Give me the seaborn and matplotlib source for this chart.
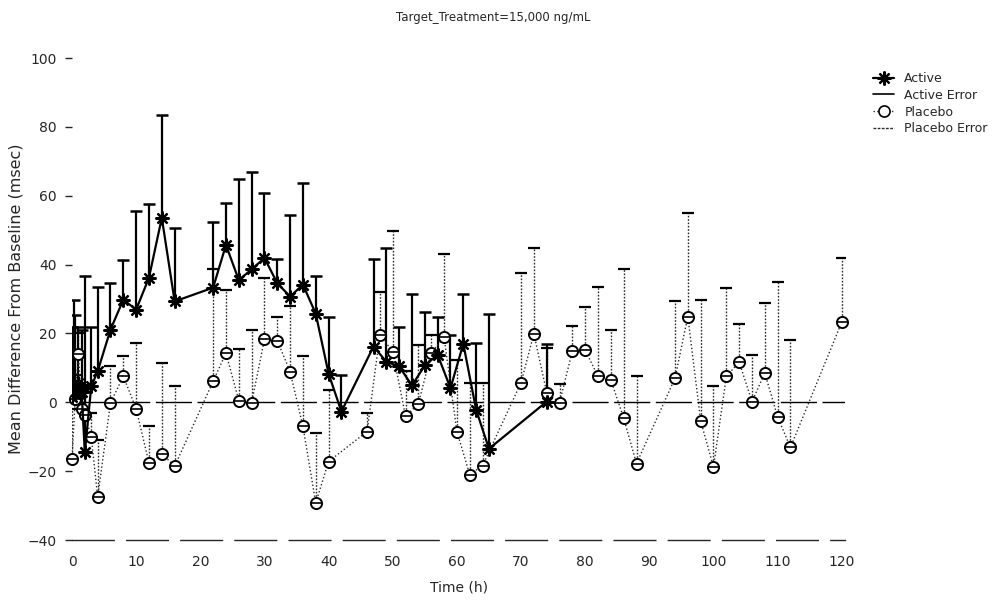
import matplotlib
matplotlib.use("Agg")
import matplotlib.pyplot as plt
from matplotlib.lines import Line2D
import seaborn as sns

# Active arm: time (h), mean change, top of error bar
active_time = [0, 0.25, 0.5, 1, 1.5, 2, 3, 4, 6, 8, 10, 12, 14, 16,
               22, 24, 26, 28, 30, 32, 34, 36, 38, 40, 42,
               47, 49, 51, 53, 55, 57, 59, 61, 63, 65, 74]
active_mean = [1.5, 4.5, 2.5, 5.5, 3.0, -14.5, 4.6, 9.0, 21.1, 29.8, 26.9, 36.2, 53.6, 29.3,
               33.3, 45.7, 35.5, 38.6, 41.9, 34.6, 30.7, 34.2, 25.7, 8.3, -2.7,
               16.2, 11.8, 10.4, 4.9, 10.7, 13.8, 4.1, 17.0, -2.2, -13.5, 0.2]
active_upper = [22, 29.7, 25.4, 22, 21, 36.7, 22, 33.6, 34.6, 41.3, 55.5, 57.6, 83.5, 50.6,
                52.3, 57.9, 65.0, 67.0, 60.8, 41.5, 54.4, 63.7, 36.8, 24.9, 8.0,
                41.5, 44.7, 21.8, 31.4, 26.1, 24.7, 19.6, 31.4, 17.2, 25.6, 17.0]

# Placebo arm
placebo_time = [0, 0.5, 1, 1.5, 2, 3, 4, 6, 8, 10, 12, 14, 16,
                22, 24, 26, 28, 30, 32, 34, 36, 38, 40,
                46, 48, 50, 52, 54, 56, 58, 60, 62, 64,
                70, 72, 74, 76, 78, 80, 82, 84, 86, 88,
                94, 96, 98, 100, 102, 104, 106, 108, 110, 112, 120]
placebo_mean = [-16.5, 1.0, 14.0, -2.0, -3.6, -10.1, -27.5, -0.2, 7.6, -1.9, -17.6, -14.9, -18.6,
                6.1, 14.3, 0.5, -0.2, 18.3, 17.9, 8.9, -7.0, -29.2, -17.2,
                -8.5, 19.6, 14.7, -4.1, -0.4, 14.3, 18.9, -8.5, -21.0, -18.4,
                5.7, 19.9, 2.8, -0.1, 14.9, 15.2, 7.5, 6.5, -4.6, -17.8,
                7.0, 24.9, -5.4, -18.8, 7.5, 11.7, 0.2, 8.5, -4.3, -13.1, 23.3]
placebo_upper = [-2, 8, 20, 5, 3, -3, -11, 10.4, 13.3, 17.2, -6.8, 11.4, 4.8,
                 38.7, 32.6, 15.4, 21.0, 36.0, 24.7, 28.0, 13.3, -8.9, 3.6,
                 -3.0, 32.0, 49.8, 9.0, 16.7, 19.6, 43.0, 12.3, 5.6, 5.6,
                 37.6, 44.7, 15.7, 5.4, 22.2, 27.6, 33.6, 21.0, 38.7, 7.7,
                 29.4, 55.0, 29.7, 4.6, 33.1, 22.8, 13.8, 28.9, 35.0, 18.1, 41.8]

x_ticks = list(range(0, 121, 10))
y_ticks = list(range(-40, 101, 20))

STAR = (8, 2, 0)
PLACEBO_COLOR = "#2b2b2b"

sns.set_style("white")
plt.rcParams["font.family"] = ["DejaVu Sans"]

fig = plt.figure(figsize=(9.97, 6.04), dpi=100)
ax = fig.add_axes([72 / 997, 64 / 604, (845 - 72) / 997, (540 - 58) / 604])

# zero reference line
ax.axhline(0, color="black", lw=1.0, dashes=(26, 4), zorder=1)

# error bars (upper only)
ax.vlines(placebo_time, placebo_mean, placebo_upper, colors=PLACEBO_COLOR,
          linestyles=(0, (1.2, 1.2)), lw=1.0, zorder=2)
ax.plot(placebo_time, placebo_upper, ls="none", marker="_", ms=8.5, mew=1.6,
        color="black", zorder=2)
ax.vlines(active_time, active_mean, active_upper, colors="black", lw=1.6, zorder=3)
ax.plot(active_time, active_upper, ls="none", marker="_", ms=8.5, mew=1.8,
        color="black", zorder=3)

# mean lines
sns.lineplot(x=placebo_time, y=placebo_mean, ax=ax, estimator=None, sort=False,
             color=PLACEBO_COLOR, lw=1.0, linestyle=":", marker="o", ms=8,
             mfc="white", mec="black", mew=1.4, zorder=4, clip_on=False)
ax.plot(placebo_time, placebo_mean, ls="none", marker="_", ms=6.5, mew=1.2,
        color="black", zorder=5, clip_on=False)
sns.lineplot(x=active_time, y=active_mean, ax=ax, estimator=None, sort=False,
             color="black", lw=1.6, marker=STAR, ms=10, mew=1.6,
             mec="black", mfc="black", zorder=6)

ax.set_xlim(0, 120.5)
ax.set_ylim(-40, 100)
ax.set_xticks(x_ticks)
ax.set_yticks(y_ticks)
ax.tick_params(axis="x", length=0, pad=11, labelsize=10)
ax.tick_params(axis="y", length=5, width=1, pad=6, labelsize=10, left=True)

for side in ["top", "right", "left"]:
    ax.spines[side].set_visible(False)
ax.spines["bottom"].set_linewidth(1.0)
ax.spines["bottom"].set_linestyle((0, (30, 9)))

ax.set_xlabel("Time (h)", fontsize=10, labelpad=8)
ax.set_ylabel("Mean Difference From Baseline (msec)", fontsize=11.5, labelpad=3)

fig.suptitle("Target_Treatment=15,000 ng/mL", x=0.495, y=1 - 17 / 604,
             va="center", fontsize=8.5)

handles = [
    Line2D([], [], color="black", lw=1.6, marker=STAR, ms=10, mew=1.6),
    Line2D([], [], color="black", lw=1.2),
    Line2D([], [], color=PLACEBO_COLOR, lw=1.0, ls=":", marker="o", ms=8,
           mfc="white", mec="black", mew=1.2),
    Line2D([], [], color=PLACEBO_COLOR, lw=1.0, ls=(0, (2, 1))),
]
labels = ["Active", "Active Error", "Placebo", "Placebo Error"]
fig.legend(handles, labels, loc="upper left", bbox_to_anchor=(868 / 997, 1 - 67 / 604),
           frameon=False, fontsize=9, handlelength=1.7, handletextpad=0.8,
           labelspacing=0.3, borderaxespad=0)

fig.savefig("out.png", dpi=100)
